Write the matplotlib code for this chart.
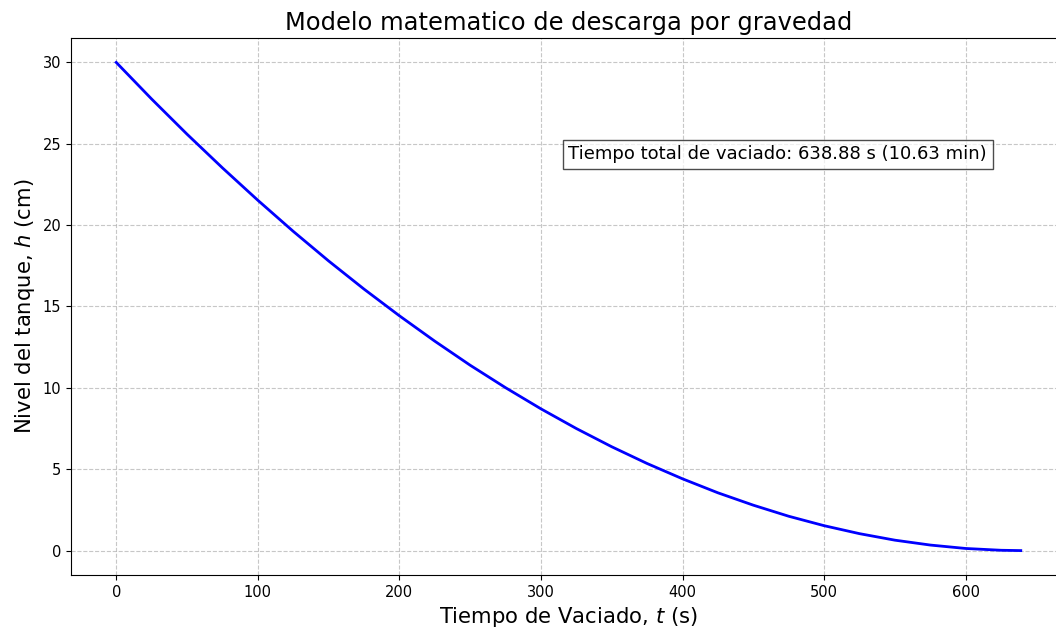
import matplotlib
matplotlib.use("Agg")
import matplotlib.pyplot as plt

# Nivel del tanque durante el vaciado por gravedad
tiempo_s = [0, 25, 50, 75, 100, 125, 150, 175, 200, 225, 250, 275, 300,
            325, 350, 375, 400, 425, 450, 475, 500, 525, 550, 575, 600,
            625, 638.88]
nivel_cm = [30.00, 27.75, 25.59, 23.52, 21.53, 19.62, 17.80, 16.07, 14.43,
            12.87, 11.39, 10.01, 8.71, 7.50, 6.38, 5.35, 4.41, 3.55, 2.79,
            2.11, 1.53, 1.04, 0.64, 0.34, 0.13, 0.02, 0.00]

etiqueta = "Tiempo total de vaciado: 638.88 s (10.63 min)"

fig = plt.figure(figsize=(10.56, 6.31), dpi=100)
ax = fig.add_axes([71 / 1056, 1 - 575 / 631, (1066 - 71) / 1056, (575 - 38) / 631])

ax.plot(tiempo_s, nivel_cm, color="blue", linewidth=2)
ax.set_title("Modelo matematico de descarga por gravedad", fontsize=17.4)
ax.set_xlabel("Tiempo de Vaciado, $t$ (s)", fontsize=15.2)
ax.set_ylabel("Nivel del tanque, $h$ (cm)", fontsize=15.2)
ax.tick_params(labelsize=10.5)
ax.grid(True, linestyle="--", alpha=0.7)

ax.text(0.5, 0.8, etiqueta, transform=ax.transAxes, fontsize=13,
        va="top", ha="left",
        bbox=dict(facecolor="white", edgecolor="black", alpha=0.7, boxstyle="square,pad=0.3"))

fig.savefig("out.png", dpi=100)
